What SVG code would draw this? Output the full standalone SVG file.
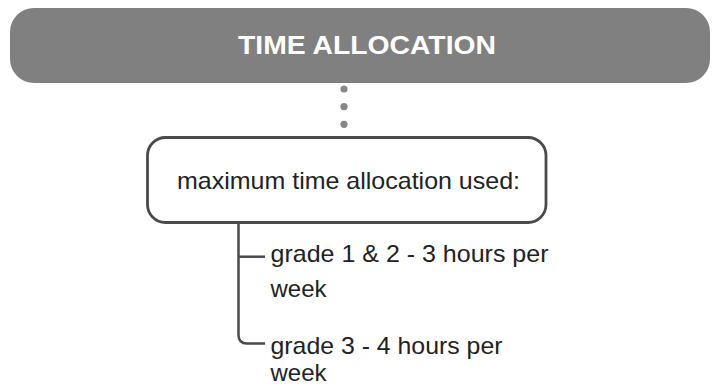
<svg xmlns="http://www.w3.org/2000/svg" width="712" height="392" viewBox="0 0 712 392">
  <style>
    .title { font-family: "Liberation Sans", Arial, sans-serif; font-weight: bold; font-size: 25px; fill: #ffffff; }
    .label { font-family: "Liberation Sans", Arial, sans-serif; font-size: 24px; fill: #222222; }
    .line { fill: none; stroke: #4a4a4a; stroke-width: 2.5; }
    .dot { fill: #888888; }
  </style>
  <rect width="712" height="392" fill="#ffffff"/>
  <g id="header">
    <rect x="10" y="8" width="700" height="75" rx="24" ry="24" fill="#808080"/>
    <text class="title" x="238" y="54" textLength="258" lengthAdjust="spacingAndGlyphs">TIME ALLOCATION</text>
  </g>
  <g id="connectors">
    <circle class="dot" cx="344" cy="89" r="3.6"/>
    <circle class="dot" cx="344" cy="106.7" r="3.6"/>
    <circle class="dot" cx="344" cy="124.3" r="3.6"/>
    <path class="line" d="M238.5 223 V335 Q238.5 343.5 247 343.5 H265"/>
    <path class="line" d="M238.5 256.7 H265"/>
  </g>
  <g id="main-box">
    <rect x="147.5" y="137.5" width="398.5" height="85" rx="18" ry="18" fill="#ffffff" stroke="#4a4a4a" stroke-width="2.8"/>
    <text class="label" x="177" y="189" textLength="343" lengthAdjust="spacingAndGlyphs">maximum time allocation used:</text>
  </g>
  <g id="item-1">
    <text class="label" x="270.5" y="261.5" textLength="278" lengthAdjust="spacingAndGlyphs">grade 1 &amp; 2 - 3 hours per</text>
    <text class="label" x="270.5" y="296.7" textLength="56" lengthAdjust="spacingAndGlyphs">week</text>
  </g>
  <g id="item-2">
    <text class="label" x="270.5" y="354" textLength="232" lengthAdjust="spacingAndGlyphs">grade 3 - 4 hours per</text>
    <text class="label" x="270.5" y="381" textLength="56" lengthAdjust="spacingAndGlyphs">week</text>
  </g>
</svg>
